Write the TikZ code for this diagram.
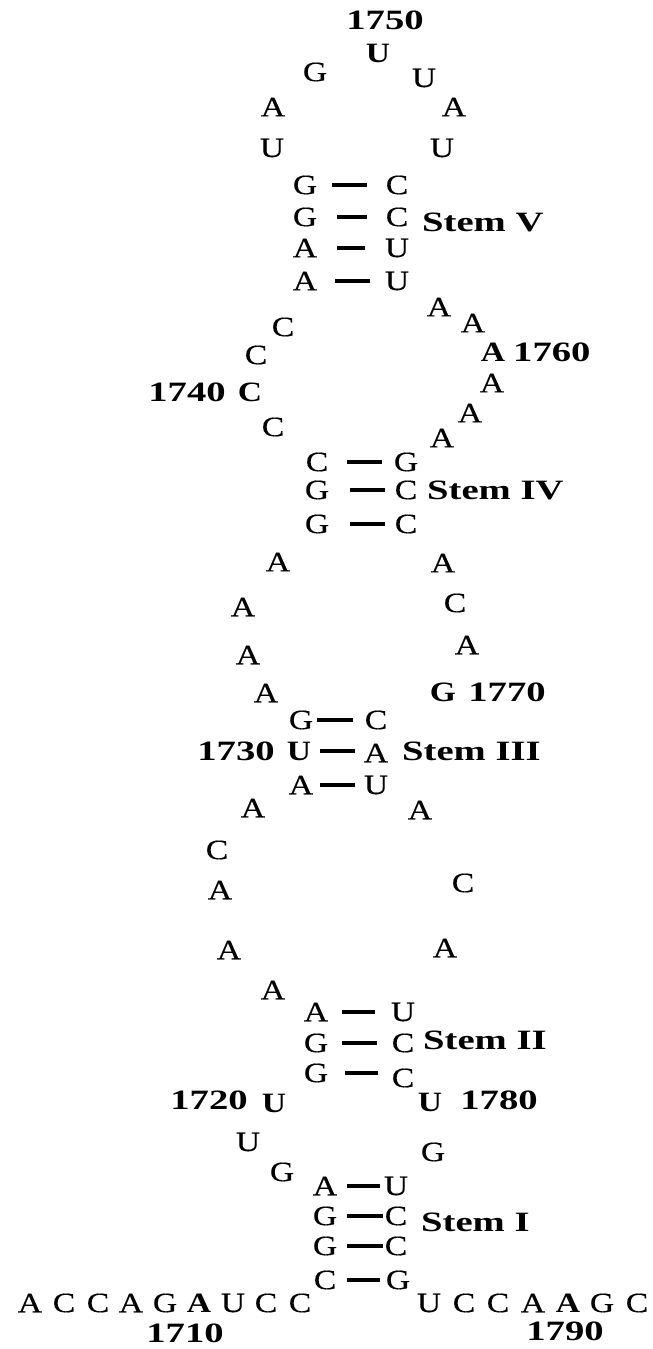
\documentclass[tikz,border=0pt]{standalone}
\usepackage{fontspec}
\setmainfont[FakeStretch=1.2, UprightFeatures={FakeBold=0.4}]{Liberation Serif}
\newfontfamily\labelfont[FakeStretch=1.38]{Liberation Serif}
\usetikzlibrary{calc}
\begin{document}
\begin{tikzpicture}[x=1pt,y=-1pt,
  nt/.style={inner sep=0pt, font=\fontsize{28}{28}\selectfont},
  ntb/.style={inner sep=0pt, font=\fontsize{28}{28}\selectfont\bfseries},
  num/.style={inner sep=0pt, font=\fontsize{28}{28}\labelfont\bfseries},
  stemlabel/.style={inner sep=0pt, anchor=west, font=\fontsize{28}{28}\labelfont\bfseries},
  bp/.style 2 args={line width=4.5pt, shorten <=#1, shorten >=#2},
]
\useasboundingbox (0,0) rectangle (653,1349);

% 5' single strand
\foreach \x/\b/\n in {30/A/1705,64/C/1706,98/C/1707,131/A/1708,165/G/1709,233/U/1711,266/C/1712,300/C/1713}
  \node[nt] (n\n) at (\x,1303) {\b};
\node[ntb] (n1710) at (199,1303) {A};
\node[num] (l1710) at (185,1333) {1710};

% left strand
\node[nt] (n1714) at (325,1280) {C};
\node[nt] (n1715) at (325,1246) {G};
\node[nt] (n1716) at (325,1216) {G};
\node[nt] (n1717) at (325,1186) {A};
\node[nt] (n1718) at (282,1172) {G};
\node[nt] (n1719) at (248,1142) {U};
\node[ntb] (n1720) at (274,1103) {U};
\node[num] (l1720) at (209,1100) {1720};
\node[nt] (n1721) at (316,1073) {G};
\node[nt] (n1722) at (316,1043) {G};
\node[nt] (n1723) at (316,1012) {A};
\node[nt] (n1724) at (273,990) {A};
\node[nt] (n1725) at (229,950) {A};
\node[nt] (n1726) at (220,890) {A};
\node[nt] (n1727) at (217,850) {C};
\node[nt] (n1728) at (253,808) {A};
\node[nt] (n1729) at (301,785) {A};
\node[ntb] (n1730) at (299,751) {U};
\node[num] (l1730) at (236,751) {1730};
\node[nt] (n1731) at (301,720) {G};
\node[nt] (n1732) at (266,693) {A};
\node[nt] (n1733) at (248,655) {A};
\node[nt] (n1734) at (243,607) {A};
\node[nt] (n1735) at (278,562) {A};
\node[nt] (n1736) at (317,524) {G};
\node[nt] (n1737) at (317,490) {G};
\node[nt] (n1738) at (317,462) {C};
\node[nt] (n1739) at (273,427) {C};
\node[ntb] (n1740) at (250,392) {C};
\node[num] (l1740) at (187,392) {1740};
\node[nt] (n1741) at (256,355) {C};
\node[nt] (n1742) at (283,327) {C};
\node[nt] (n1743) at (305,281) {A};
\node[nt] (n1744) at (305,248) {A};
\node[nt] (n1745) at (305,217) {G};
\node[nt] (n1746) at (305,185) {G};
\node[nt] (n1747) at (272,148) {U};
\node[nt] (n1748) at (273,107) {A};
\node[nt] (n1749) at (315,72) {G};
\node[ntb] (n1750) at (378,53) {U};
\node[num] (l1750) at (385,20) {1750};

% right strand
\node[nt] (n1751) at (424,78) {U};
\node[nt] (n1752) at (454,107) {A};
\node[nt] (n1753) at (442,148) {U};
\node[nt] (n1754) at (397,185) {C};
\node[nt] (n1755) at (397,217) {C};
\node[nt] (n1756) at (397,248) {U};
\node[nt] (n1757) at (397,281) {U};
\node[nt] (n1758) at (439,307) {A};
\node[nt] (n1759) at (473,323) {A};
\node[ntb] (n1760) at (493,352) {A};
\node[num, anchor=west] (l1760) at (513,352) {1760};
\node[nt] (n1761) at (492,383) {A};
\node[nt] (n1762) at (470,413) {A};
\node[nt] (n1763) at (442,438) {A};
\node[nt] (n1764) at (406,462) {G};
\node[nt] (n1765) at (406,490) {C};
\node[nt] (n1766) at (406,524) {C};
\node[nt] (n1767) at (443,563) {A};
\node[nt] (n1768) at (455,603) {C};
\node[nt] (n1769) at (467,645) {A};
\node[ntb] (n1770) at (443,692) {G};
\node[num] (l1770) at (507,692) {1770};
\node[nt] (n1771) at (376,720) {C};
\node[nt] (n1772) at (376,753) {A};
\node[nt] (n1773) at (376,785) {U};
\node[nt] (n1774) at (420,810) {A};
\node[nt] (n1775) at (463,883) {C};
\node[nt] (n1776) at (445,948) {A};
\node[nt] (n1777) at (403,1012) {U};
\node[nt] (n1778) at (403,1043) {C};
\node[nt] (n1779) at (403,1078) {C};
\node[ntb] (n1780) at (430,1102) {U};
\node[num] (l1780) at (499,1100) {1780};
\node[nt] (n1781) at (433,1152) {G};
\node[nt] (n1782) at (396,1186) {U};
\node[nt] (n1783) at (396,1216) {C};
\node[nt] (n1784) at (396,1246) {C};
\node[nt] (n1785) at (398,1280) {G};

% 3' single strand
\foreach \x/\b/\n in {429/U/1786,464/C/1787,498/C/1788,533/A/1789,602/G/1791,637/C/1792}
  \node[nt] (n\n) at (\x,1303) {\b};
\node[ntb] (n1790) at (568,1303) {A};
\node[num] (l1790) at (565,1331) {1790};

% stem labels
\node[stemlabel] (sV) at (422,222) {Stem V};
\node[stemlabel] (sIV) at (427,490) {Stem IV};
\node[stemlabel] (sIII) at (402,751) {Stem III};
\node[stemlabel] (sII) at (423,1040) {Stem II};
\node[stemlabel] (sI) at (421,1222) {Stem I};

% base pairs
\draw[bp={27pt}{30pt}] (n1746.center) -- (n1746.center -| n1754.center);
\draw[bp={32pt}{30pt}] (n1745.center) -- (n1745.center -| n1755.center);
\draw[bp={32pt}{32pt}] (n1744.center) -- (n1744.center -| n1756.center);
\draw[bp={30pt}{27pt}] (n1743.center) -- (n1743.center -| n1757.center);
\draw[bp={30pt}{24pt}] (n1738.center) -- (n1738.center -| n1764.center);
\draw[bp={33pt}{21pt}] (n1737.center) -- (n1737.center -| n1765.center);
\draw[bp={33pt}{21pt}] (n1736.center) -- (n1736.center -| n1766.center);
\draw[bp={16pt}{23pt}] (n1731.center) -- (n1731.center -| n1771.center);
\draw[bp={21pt}{21pt}] (n1730.center) -- (n1730.center -| n1772.center);
\draw[bp={19pt}{21pt}] (n1729.center) -- (n1729.center -| n1773.center);
\draw[bp={26pt}{28pt}] (n1723.center) -- (n1723.center -| n1777.center);
\draw[bp={26pt}{26pt}] (n1722.center) -- (n1722.center -| n1778.center);
\draw[bp={29pt}{25pt}] (n1721.center) -- (n1721.center -| n1779.center);
\draw[bp={22pt}{16pt}] (n1717.center) -- (n1717.center -| n1782.center);
\draw[bp={22pt}{13pt}] (n1716.center) -- (n1716.center -| n1783.center);
\draw[bp={22pt}{13pt}] (n1715.center) -- (n1715.center -| n1784.center);
\draw[bp={22pt}{18pt}] (n1714.center) -- (n1714.center -| n1785.center);
\end{tikzpicture}
\end{document}
